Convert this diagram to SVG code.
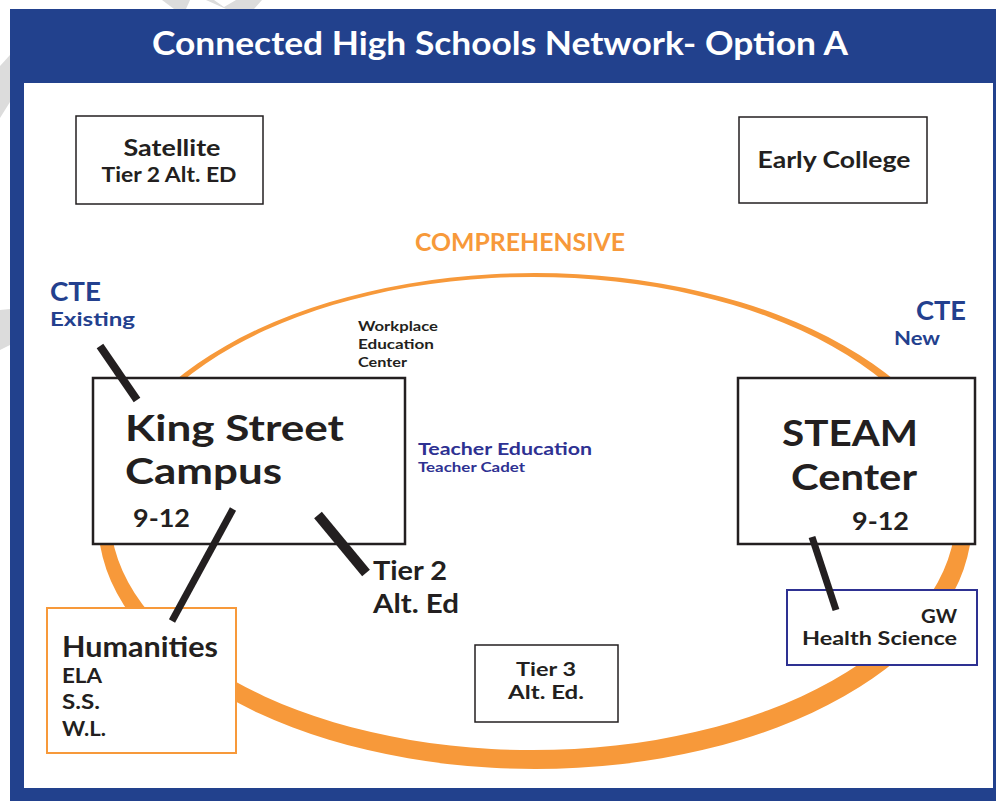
<svg xmlns="http://www.w3.org/2000/svg" width="996" height="801" viewBox="0 0 996 801">
<style>
.t{font-family:Lato,"Open Sans","Liberation Sans",sans-serif;font-weight:700}
.k{fill:#231f20}
.b{fill:#23408e}
.p{fill:#2e3192}
.box{fill:#fff;stroke:#231f20}
.conn{stroke:#231f20;stroke-linecap:butt;fill:none}
</style>
<rect x="0" y="0" width="996" height="801" fill="#fff"/>
<g id="watermark" fill="#dcdcdc">
<polygon points="162,0 190,0 186,9 174,9"/>
<polygon points="206,0 214,0 224,7 236,0 262,0 254,9 226,9"/>
<polygon points="0,66 10,55 10,102 0,118"/>
<polygon points="0,310 10,309 10,345 0,350"/>
</g>
<g id="frame">
<rect x="10" y="9" width="986" height="792" fill="#22418d"/>
<rect x="24" y="83" width="969" height="705" fill="#fff"/>
<text class="t" x="500" y="55" font-size="33" fill="#fff" text-anchor="middle" textLength="696" lengthAdjust="spacingAndGlyphs">Connected High Schools Network- Option A</text>
</g>
<g id="comprehensive">
<path d="M98,521 a437,248 0 1,0 874,0 a437,248 0 1,0 -874,0 Z M110,513.5 a423,236.5 0 1,0 846,0 a423,236.5 0 1,0 -846,0 Z" fill="#f7993a" fill-rule="evenodd"/>
<text class="t" x="415" y="251" font-size="25" fill="#f7993a" textLength="210" lengthAdjust="spacingAndGlyphs">COMPREHENSIVE</text>
</g>
<g id="satellite">
<rect class="box" x="76" y="116" width="187" height="88" stroke-width="1.5"/>
<text class="t k" x="172" y="156" font-size="22" text-anchor="middle" textLength="97" lengthAdjust="spacingAndGlyphs">Satellite</text>
<text class="t k" x="169" y="182" font-size="20" text-anchor="middle" textLength="135" lengthAdjust="spacingAndGlyphs">Tier 2 Alt. ED</text>
</g>
<g id="early-college">
<rect class="box" x="739" y="117" width="188" height="86" stroke-width="1.5"/>
<text class="t k" x="834" y="168" font-size="23" text-anchor="middle" textLength="153" lengthAdjust="spacingAndGlyphs">Early College</text>
</g>
<g id="cte-existing">
<text class="t b" x="50" y="301" font-size="27" textLength="51" lengthAdjust="spacingAndGlyphs">CTE</text>
<text class="t b" x="50" y="326" font-size="19" textLength="85" lengthAdjust="spacingAndGlyphs">Existing</text>
</g>
<g id="cte-new">
<text class="t b" x="916" y="320" font-size="27" textLength="50" lengthAdjust="spacingAndGlyphs">CTE</text>
<text class="t b" x="894" y="345" font-size="19" textLength="46" lengthAdjust="spacingAndGlyphs">New</text>
</g>
<g id="workplace">
<text class="t k" x="358" y="331" font-size="14" textLength="80" lengthAdjust="spacingAndGlyphs">Workplace</text>
<text class="t k" x="358" y="349" font-size="14" textLength="76" lengthAdjust="spacingAndGlyphs">Education</text>
<text class="t k" x="358" y="367" font-size="14" textLength="49" lengthAdjust="spacingAndGlyphs">Center</text>
</g>
<g id="king-street">
<rect class="box" x="93" y="378" width="312" height="166" stroke-width="2.5"/>
<text class="t k" x="125" y="441" font-size="36" textLength="219" lengthAdjust="spacingAndGlyphs">King Street</text>
<text class="t k" x="125" y="484" font-size="36" textLength="157" lengthAdjust="spacingAndGlyphs">Campus</text>
<text class="t k" x="133" y="527" font-size="24" textLength="57" lengthAdjust="spacingAndGlyphs">9-12</text>
</g>
<g id="teacher-education">
<text class="t p" x="418" y="455" font-size="17" textLength="174" lengthAdjust="spacingAndGlyphs">Teacher Education</text>
<text class="t p" x="418" y="472" font-size="13" textLength="107" lengthAdjust="spacingAndGlyphs">Teacher Cadet</text>
</g>
<g id="steam">
<rect class="box" x="738" y="378" width="237" height="166" stroke-width="2.5"/>
<text class="t k" x="850" y="446" font-size="36" text-anchor="middle" textLength="136" lengthAdjust="spacingAndGlyphs">STEAM</text>
<text class="t k" x="854" y="490" font-size="36" text-anchor="middle" textLength="126" lengthAdjust="spacingAndGlyphs">Center</text>
<text class="t k" x="852" y="530" font-size="24" textLength="57" lengthAdjust="spacingAndGlyphs">9-12</text>
</g>
<g id="tier2">
<text class="t k" x="373" y="580" font-size="26" textLength="74" lengthAdjust="spacingAndGlyphs">Tier 2</text>
<text class="t k" x="373" y="613" font-size="26" textLength="86" lengthAdjust="spacingAndGlyphs">Alt. Ed</text>
</g>
<g id="gw-health">
<rect x="787" y="590" width="190" height="75" fill="#fff" stroke="#2e3192" stroke-width="2"/>
<text class="t k" x="957" y="623" font-size="18" text-anchor="end" textLength="36" lengthAdjust="spacingAndGlyphs">GW</text>
<text class="t k" x="957" y="645" font-size="18" text-anchor="end" textLength="155" lengthAdjust="spacingAndGlyphs">Health Science</text>
</g>
<g id="humanities">
<rect x="47" y="608" width="189" height="145" fill="#fff" stroke="#f7993a" stroke-width="2"/>
<text class="t k" x="62" y="657" font-size="28" textLength="156" lengthAdjust="spacingAndGlyphs">Humanities</text>
<text class="t k" x="62" y="683" font-size="20" textLength="40" lengthAdjust="spacingAndGlyphs">ELA</text>
<text class="t k" x="62" y="709" font-size="20" textLength="38" lengthAdjust="spacingAndGlyphs">S.S.</text>
<text class="t k" x="62" y="736" font-size="20" textLength="44" lengthAdjust="spacingAndGlyphs">W.L.</text>
</g>
<g id="tier3">
<rect class="box" x="475" y="645" width="143" height="77" stroke-width="1.5"/>
<text class="t k" x="546" y="676" font-size="18" text-anchor="middle" textLength="60" lengthAdjust="spacingAndGlyphs">Tier 3</text>
<text class="t k" x="546" y="699" font-size="18" text-anchor="middle" textLength="76" lengthAdjust="spacingAndGlyphs">Alt. Ed.</text>
</g>
<g id="connectors" class="conn">
<line x1="100" y1="346" x2="137" y2="400" stroke-width="8"/>
<line x1="233" y1="509" x2="172" y2="621" stroke-width="7"/>
<line x1="318" y1="515" x2="366" y2="573" stroke-width="10"/>
<line x1="812" y1="537" x2="836" y2="610" stroke-width="7"/>
</g>
</svg>
